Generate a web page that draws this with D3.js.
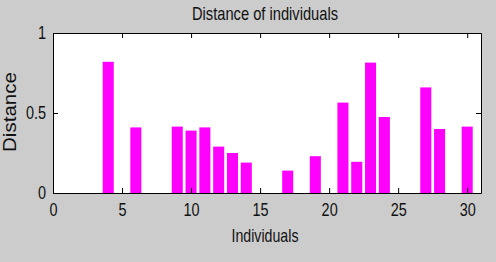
<!DOCTYPE html>
<html>
<head>
<meta charset="utf-8">
<script src="https://cdn.jsdelivr.net/npm/d3@7"></script>
<style>
  body { margin: 0; background: #cccccc; }
  svg { display: block; }
  text { font-family: "Liberation Sans", Arial, sans-serif; fill: #111; }
</style>
</head>
<body>
<svg width="496" height="262"></svg>
<script>
// data
var individuals = [4, 6, 9, 10, 11, 12, 13, 14, 17, 19, 21, 22, 23, 24, 27, 28, 30];
var distances   = [0.82, 0.41, 0.415, 0.39, 0.41, 0.29, 0.25, 0.19, 0.14, 0.23, 0.565, 0.195, 0.815, 0.475, 0.66, 0.40, 0.415];
var xTicks = [0, 5, 10, 15, 20, 25, 30];
var yTicks = [0, 0.5, 1];
var titleText = "Distance of individuals";
var xLabel = "Individuals";
var yLabel = "Distance";

var svg = d3.select("svg");
var mLeft = 53, mRight = 481, mTop = 33, mBottom = 193;

var xScale = d3.scaleLinear().domain([0, 31]).range([mLeft, mRight]);
var yScale = d3.scaleLinear().domain([0, 1]).range([mBottom, mTop]);

// white plot box
svg.append("rect")
  .attr("x", mLeft).attr("y", mTop)
  .attr("width", mRight - mLeft).attr("height", mBottom - mTop)
  .attr("fill", "#fff");

// bars, width 0.8 like matlab
svg.append("g").selectAll("rect")
  .data(individuals)
  .enter()
  .append("rect")
  .attr("x", function(d) { return xScale(d - 0.4); })
  .attr("width", function(d) { return xScale(d + 0.4) - xScale(d - 0.4); })
  .attr("y", function(d, i) { return yScale(distances[i]); })
  .attr("height", function(d, i) { return mBottom - yScale(distances[i]); })
  .attr("fill", "#ff00ff");

function styleAxis(g) {
  g.attr("font-family", null).attr("font-size", 18.5);
  g.selectAll("path").attr("stroke", "#000");
  g.selectAll("line").attr("stroke", "#000");
  g.selectAll("text").attr("fill", "#111");
}

var fmt = function(d) { return d3.format("~g")(d); };

svg.append("g")
  .attr("transform", "translate(0," + mBottom + ")")
  .call(d3.axisBottom(xScale).tickValues(xTicks).tickFormat(fmt).tickSizeInner(-5).tickSizeOuter(0).tickPadding(10))
  .call(styleAxis);

svg.append("g")
  .attr("transform", "translate(" + mLeft + ",0)")
  .call(d3.axisLeft(yScale).tickValues(yTicks).tickFormat(fmt).tickSizeInner(-5).tickSizeOuter(0).tickPadding(7))
  .call(styleAxis);

svg.append("g") // top ticks, no labels
  .attr("transform", "translate(0," + mTop + ")")
  .call(d3.axisTop(xScale).tickValues(xTicks).tickFormat("").tickSizeInner(-5).tickSizeOuter(0))
  .call(styleAxis);

svg.append("g") // right ticks, no labels
  .attr("transform", "translate(" + mRight + ",0)")
  .call(d3.axisRight(yScale).tickValues(yTicks).tickFormat("").tickSizeInner(-5).tickSizeOuter(0))
  .call(styleAxis);

// squeeze tick labels a bit, the original font is narrow
svg.selectAll(".tick text").each(function() {
  var w = this.getComputedTextLength();
  if (w > 0) d3.select(this).attr("textLength", w * 0.78).attr("lengthAdjust", "spacingAndGlyphs");
});

svg.append("text")
  .attr("x", 265).attr("y", 20)
  .attr("text-anchor", "middle")
  .attr("font-size", 19)
  .attr("textLength", 146).attr("lengthAdjust", "spacingAndGlyphs")
  .text(titleText);

svg.append("text")
  .attr("x", 265).attr("y", 242)
  .attr("text-anchor", "middle")
  .attr("font-size", 19)
  .attr("textLength", 67).attr("lengthAdjust", "spacingAndGlyphs")
  .text(xLabel);

svg.append("text")
  .attr("transform", "translate(16,112) rotate(-90)")
  .attr("text-anchor", "middle")
  .attr("font-size", 19)
  .attr("textLength", 80).attr("lengthAdjust", "spacingAndGlyphs")
  .text(yLabel);
</script>
</body>
</html>
